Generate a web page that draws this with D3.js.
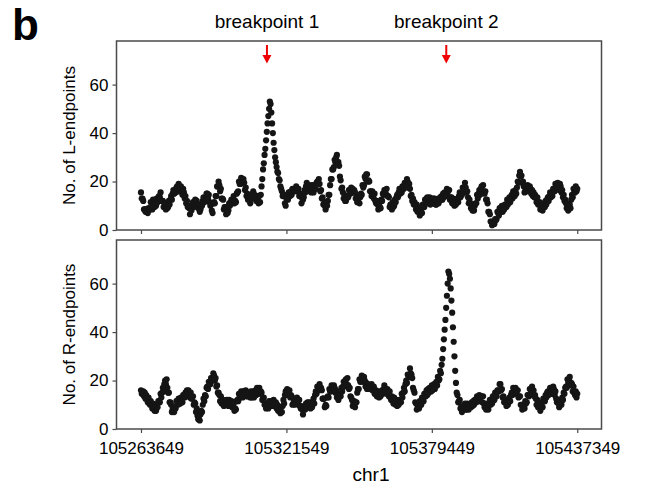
<!DOCTYPE html>
<html>
<head>
<meta charset="utf-8">
<script src="https://cdn.jsdelivr.net/npm/d3@7"></script>
<style>
  body { margin: 0; background: #fff; }
  svg { display: block; }
  text { font-family: Arial, "Liberation Sans", sans-serif; }
</style>
</head>
<body>
<svg id="chart" width="645" height="494"></svg>
<script>
// Genomic window on chr1, sliding-window counts every 300 bp
const startPos = 105263649;
const stepBp = 300;
const xTickValues = [105263649, 105321549, 105379449, 105437349];
const yTickValues = [0, 20, 40, 60];
const breakpointLabels = ["breakpoint 1", "breakpoint 2"];
const breakpointPositions = [105313800, 105385200];

// Number of left endpoints per window
const lEndpoints = [
  15.5,13,13,12,8.5,8.5,7.5,8.5,7.5,7,9,8.5,8.5,11.5,11,8.5,12.5,11.5,9.5,12.5,
  10,13,11.5,13.5,14,13.5,15.5,12,12,12,9.5,11,11,8.5,10.5,9,9.5,12,10.5,12.5,
  14,12.5,15,16.5,15,16,15.5,17.5,18,16,19,16,16,18,16.5,14.5,17,15.5,13,14,
  11,12,9.5,10,9,6.5,9.5,8,10,11.5,9.5,11.5,12.5,10,12,10,9,10.5,7.5,8.5,
  10,10,12,13.5,11.5,13,12,15,15,13,14.5,11.5,10,10.5,8,7,11,11.5,11,14,
  14,18,18,20,18.5,16,17,13,13,12.5,8.5,9.5,9.5,6.5,8.5,7,8,11,10,11.5,
  12.5,11,12.5,14,11,12,11.5,15,15.5,16,20,19,19,21.5,21,19.5,21,19.5,16.5,17.5,
  14,15,12.5,13.5,13,11,14.5,13,14.5,16,13,14.5,14,12,14,12,11,14,11.5,14.5,
  18,21,25,27.5,31,33.5,37,40.5,44,47,50,53,52,48.5,44,40,36,33,30,28,
  26,24,23.5,21,20.5,18,17,16,14,14.5,14.5,11,10,13,13,12.5,15.5,14.5,14,16,
  14.5,17,16,16.5,16.5,16,18,16,16.5,17,14,15,14,11,13,12.5,13.5,16.5,15.5,18,
  19.5,17,18,18.5,16,16.5,15.5,18.5,17.5,15.5,18.5,17,17,19.5,20,19.5,21,19,16,16.5,
  13,13.5,10.5,11,10,8.5,11.5,10,12,14.5,14.5,18.5,21,21,25,25,26,29,28,30,
  31,28,28,26.5,22,20.5,17,17.5,15.5,13,14.5,12,12,14,14,13.5,16.5,16.5,15,17.5,
  15.5,17,16,16.5,15.5,13,14.5,11.5,12,13.5,11,13.5,15,14.5,18.5,17.5,18.5,22,21,23,
  23,20,20.5,20,16,16,14,16,14.5,13,15,12,11,12,10.5,8.5,10.5,9.5,9,12.5,
  12,15,14.5,16.5,16.5,15,17,14,14,13.5,9.5,10.5,10.5,8.5,11.5,9.5,10,12.5,11.5,13.5,
  14.5,13.5,15.5,17,15,16.5,15.5,18,18,17,19.5,18,18,21,20,17.5,19,17,14,14.5,
  12,13,10.5,11.5,10.5,8.5,10.5,7.5,8,9,6,8,8.5,7,10.5,9.5,9.5,12.5,11,13,
  13.5,11,13,13.5,10.5,12,11,13,13,11,13,10.5,10.5,12.5,12,11,13,13.5,12.5,14,
  12.5,15,13.5,15.5,14.5,14,17,15.5,16.5,16.5,12.5,13.5,13.5,11,13,11,10,12.5,10.5,12.5,
  13,11.5,14,15.5,13.5,15,14.5,17.5,17.5,16.5,19.5,17.5,15.5,16,13.5,11,12.5,11,9,10.5,
  8,9.5,8,10,11,11,14.5,13,15,16.5,14.5,17,18,16,18.5,16,15,16,12.5,12.5,
  11,7.5,7.5,6.5,3.5,3.5,2,3,3,2.5,4.5,4,4.5,7.5,7,6,9,9,8,10,
  7.5,9.5,8.5,10.5,10.5,9.5,12.5,10.5,12,13.5,11.5,13.5,14.5,13,16,14,14,16.5,15,17.5,
  20,19.5,22.5,24,22,22.5,19.5,20,18,15.5,17.5,16,16,18.5,18,16,18,17,15,16.5,
  14,15.5,13.5,14.5,13.5,11.5,13.5,10.5,11,11.5,8.5,10,10,8,11,9.5,9.5,12,10.5,12.5,
  13.5,12,14,15.5,13.5,15,14,17,17,16,19,17.5,17.5,19.5,18.5,16.5,19,18,15.5,16.5,
  13.5,14.5,12,12.5,11,9,11,8,9,10.5,9,12.5,14.5,13.5,17,15.5,15.5,18,16,17
];

// Number of right endpoints per window
const rEndpoints = [
  16,14.5,15,15.5,13.5,15,12.5,14,12.5,11,13,10.5,10,11.5,10,8.5,10.5,9.5,7.5,9.5,
  7.5,10,9,11.5,11.5,11,14.5,13,15,17,15.5,18.5,20,18.5,20.5,17,15,15,11,11,
  10,7,8,9,7,9,8.5,11.5,11.5,10,12.5,10.5,10.5,13,12,11,14,14,13,15,
  13.5,16,15,16,15,13,15,12.5,13,13.5,10,11,10.5,7,8.5,5.5,4,5.5,3.5,6,
  7.5,7,10,12.5,11.5,14,13.5,17,17.5,16.5,19.5,18.5,18.5,21,21,20,23,22,20,21,
  17.5,18,15,15,14,11.5,13.5,10.5,11.5,12,9.5,11.5,11.5,10,12,10,9.5,12,10,11.5,
  11.5,9,10,10.5,7.5,8.5,8,11.5,12,11.5,14.5,13.5,13,15.5,14.5,13,15.5,15.5,14,16,
  13.5,15,13.5,15,14,13,15.5,13,14,15.5,13,15,16,14,17,15.5,15,17,14.5,15.5,
  15,12,12.5,13,10,10.5,8.5,10.5,10,8.5,11.5,9.5,9.5,11.5,11,9.5,12,11,9.5,11,
  8.5,10,7.5,8.5,8,6.5,9,7,9.5,12,10.5,14,15.5,14,16.5,15,14.5,16,13,14,
  13.5,10,10.5,12,10,11.5,10.5,13,12,10,12,9.5,8.5,9.5,8,6,8.5,8.5,8,10.5,
  9,11,9.5,11,10,8.5,11,9,11,12.5,10.5,14,15.5,14.5,17.5,16,16,18.5,16.5,17,
  16,12.5,12.5,12.5,9,10,9.5,13,13.5,13,16.5,15.5,15.5,18,17.5,16,18,17,15,16,
  13,14,12,14,14.5,13.5,17,15.5,17.5,19.5,17.5,20,20.5,18.5,21,18,16.5,17,13.5,13,
  12,9.5,10.5,11.5,9,11,11,15,16.5,16.5,20.5,19.5,19.5,22,21,19.5,21.5,20,17.5,19,
  16.5,18.5,16.5,18,17.5,16.5,18.5,16,17,17.5,14.5,16,16,13.5,15.5,13.5,13,15,13.5,15.5,
  16,14.5,16.5,18,15.5,16.5,14.5,16.5,15.5,13.5,15.5,13,12,13.5,12.5,10.5,13,12,10,12,
  9.5,11.5,10,12,11.5,11,14.5,13,15,17,15.5,18.5,20,19,22.5,21.5,22,25,23,22.5,
  21,17,16,15,11,10.5,8,10,9.5,8.5,11.5,10,10,13,12.5,11.5,14.5,14.5,13.5,16,
  14,16.5,15,17,16.5,15.5,18,16,17,18.5,16.5,18.5,19.5,18,21.5,20,20.5,24,23,26.5,
  29,33,37,41,45,50,55,60,65,64,62,58,53,48,42,36,30,24,19,15,
  14,11,11.5,12,8.5,9,7,9.5,9.5,8.5,10.5,8,8,10.5,10,8,10,10,9,11,
  9.5,11.5,10,12,12,11,13.5,11.5,13,14,11.5,13.5,13.5,11,13.5,10.5,9,10.5,8,9,
  9.5,8,10,12,10,11.5,10.5,13.5,13.5,12,15,13.5,13.5,16,16,15.5,18.5,18.5,16,16.5,
  13,13.5,11,11.5,11,9.5,12,10,11.5,13,11.5,14,15,14,17,15.5,15,17,14.5,16,
  16,13,13.5,13.5,10,10,8,10,9.5,8.5,11.5,10.5,11,14,14,13.5,16.5,16.5,15.5,17.5,
  14.5,16,13.5,14,12.5,10,12,9,9.5,10,7.5,10,11,9,12.5,11.5,11.5,14,13,15,
  15.5,14,15.5,17,14.5,15.5,14.5,17.5,16.5,14,15.5,12.5,11,12,10.5,9,11.5,11,10,13,
  12,15,14.5,17,17.5,17,20.5,19,20.5,21.5,18,19,18.5,15.5,17.5,15,14,15.5,13,14.5
];

const svg = d3.select("#chart");
const plotLeft = 116.5, plotRight = 601.5;
const x = d3.scaleLinear().domain([105253900, 105447000]).range([plotLeft, plotRight]);
const fontSize = 17;
const axisColor = "#4a4a4a";

const panels = [
  { top: 41, bottom: 230, values: lEndpoints, title: "No. of L-endpoints", showLabels: false },
  { top: 240, bottom: 429, values: rEndpoints, title: "No. of R-endpoints", showLabels: true }
];

panels.forEach(p => {
  const y = d3.scaleLinear().domain([0, 78]).range([p.bottom, p.top]);
  const g = svg.append("g");

  // frame
  g.append("rect")
    .attr("x", plotLeft).attr("y", p.top)
    .attr("width", plotRight - plotLeft).attr("height", p.bottom - p.top)
    .attr("fill", "none").attr("stroke", axisColor).attr("stroke-width", 1.5);

  // y axis
  const ya = g.append("g")
    .attr("transform", `translate(${plotLeft},0)`)
    .call(d3.axisLeft(y).tickValues(yTickValues).tickSize(4).tickPadding(4));
  ya.select(".domain").remove();
  ya.selectAll(".tick line").attr("stroke", axisColor).attr("stroke-width", 1.2);
  ya.selectAll(".tick text").attr("font-size", fontSize).attr("fill", "#000")
    .attr("font-family", "Arial, 'Liberation Sans', sans-serif");

  // x axis
  const xa = g.append("g")
    .attr("transform", `translate(0,${p.bottom})`)
    .call(d3.axisBottom(x).tickValues(xTickValues).tickSize(4).tickPadding(9)
      .tickFormat(p.showLabels ? d3.format("d") : () => ""));
  xa.select(".domain").remove();
  xa.selectAll(".tick line").attr("stroke", axisColor).attr("stroke-width", 1.2);
  xa.selectAll(".tick text").attr("font-size", fontSize).attr("fill", "#000")
    .attr("font-family", "Arial, 'Liberation Sans', sans-serif");

  // y title
  g.append("text")
    .attr("transform", `translate(75,${(p.top + p.bottom) / 2}) rotate(-90)`)
    .attr("text-anchor", "middle").attr("font-size", fontSize)
    .text(p.title);

  // points
  g.append("g").selectAll("circle")
    .data(p.values)
    .join("circle")
    .attr("cx", (d, i) => x(startPos + i * stepBp))
    .attr("cy", d => y(d))
    .attr("r", 3.1)
    .attr("fill", "#151515");
});

// x axis title
svg.append("text")
  .attr("x", 371).attr("y", 481)
  .attr("text-anchor", "middle").attr("font-size", 19)
  .text("chr1");

// panel letter
svg.append("text")
  .attr("x", 12).attr("y", 40)
  .attr("font-size", 44).attr("font-weight", "bold")
  .text("b");

// breakpoint markers
breakpointPositions.forEach((pos, i) => {
  const cx = x(pos);
  svg.append("text")
    .attr("x", cx).attr("y", 28)
    .attr("text-anchor", "middle").attr("font-size", 19)
    .text(breakpointLabels[i]);
  svg.append("line")
    .attr("x1", cx).attr("x2", cx).attr("y1", 45).attr("y2", 56)
    .attr("stroke", "#f00000").attr("stroke-width", 2);
  svg.append("path")
    .attr("d", `M${cx - 4.5},55 L${cx + 4.5},55 L${cx},63.5 Z`)
    .attr("fill", "#f00000");
});
</script>
</body>
</html>
